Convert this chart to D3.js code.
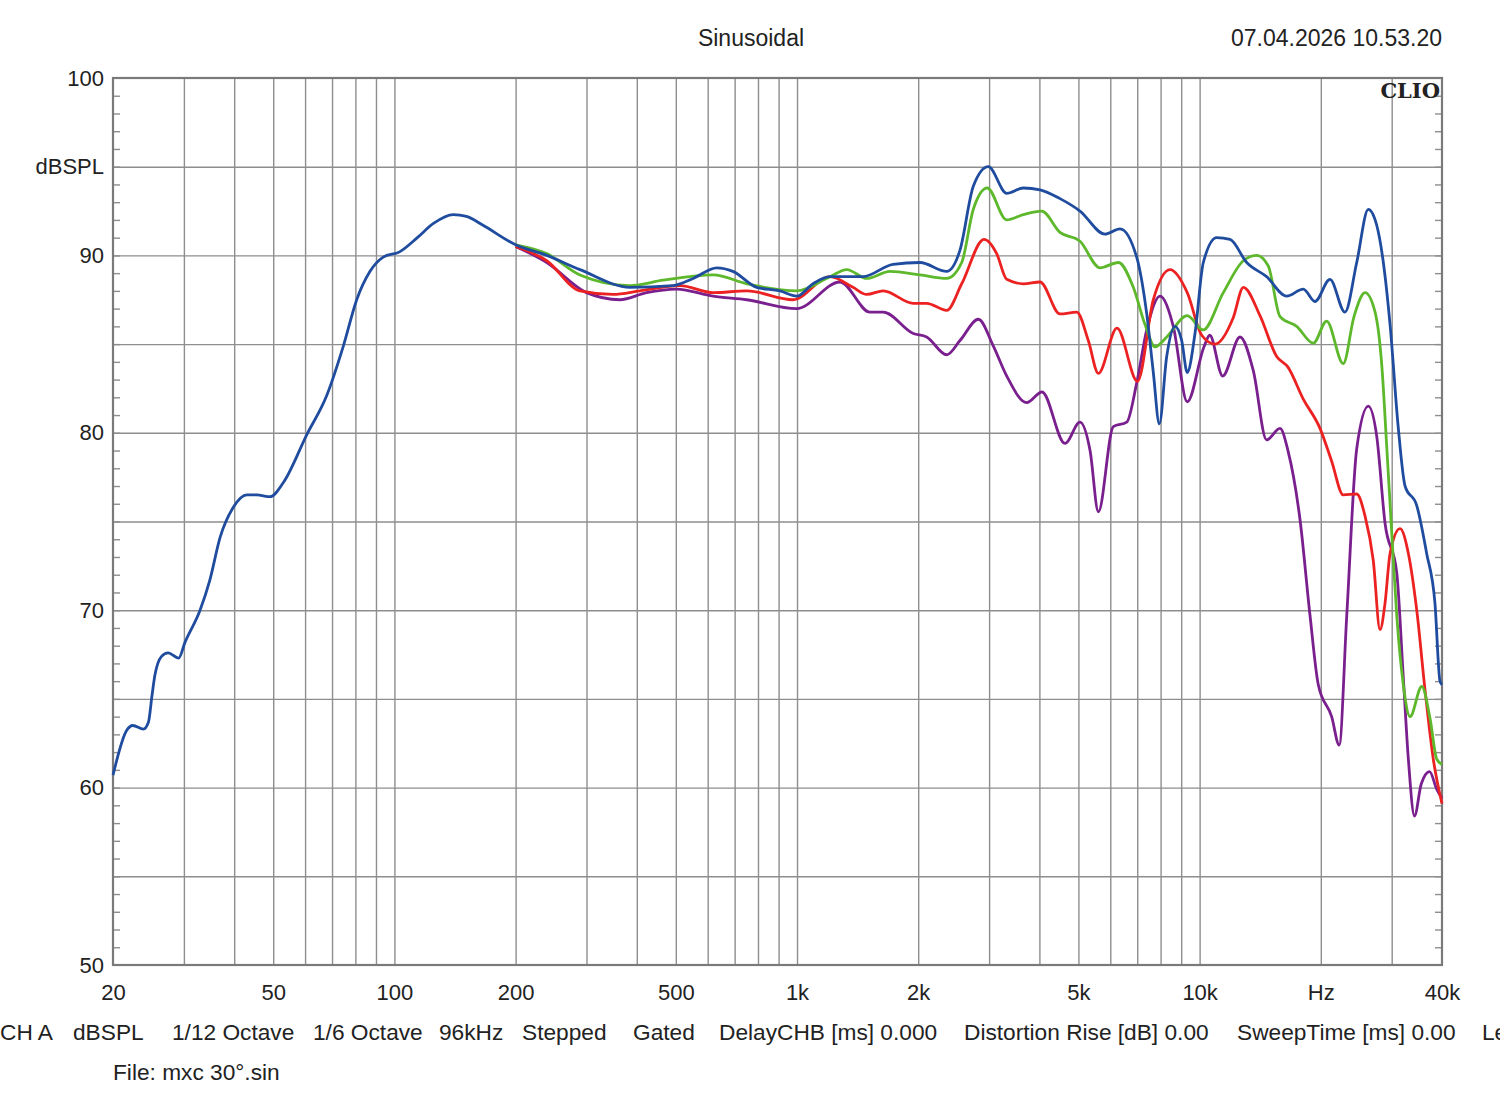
<!DOCTYPE html>
<meta charset="utf-8">
<style>
    body { margin: 0; background: #fff; }
    text { font-family: "Liberation Sans", Arial, sans-serif; fill: #222; }
    .grid line { stroke: #8e8e8e; stroke-width: 1.4; }
    .grid path, .labels path, .minor path { display: none; }
    .labels line { display: none; }
    .minor line { stroke: #8e8e8e; stroke-width: 1.4; }
    .curve { fill: none; stroke-width: 2.8; stroke-linejoin: round; }
</style>
<svg width="1500" height="1110"></svg>
<script src="https://d3js.org/d3.v7.min.js"></script>
<script>

    // grid and tick values
    var gridHz = [30, 40, 50, 60, 70, 80, 90, 100, 200, 300, 400, 500, 600, 700, 800, 900,
        1000, 2000, 3000, 4000, 5000, 6000, 7000, 8000, 9000, 10000, 20000, 30000];
    var xTickHz = [20, 50, 100, 200, 500, 1000, 2000, 5000, 10000, 20000, 40000];
    var xTickText = ["20", "50", "100", "200", "500", "1k", "2k", "5k", "10k", "Hz", "40k"];
    var yGridDb = [55, 60, 65, 70, 75, 80, 85, 90, 95];
    var yTickDb = [50, 60, 70, 80, 90, 95, 100];
    var yTickText = ["50", "60", "70", "80", "90", "dBSPL", "100"];

    // measured curves
    var blueHz = [20, 21.6, 22.4, 23.8, 24.5, 25.0, 25.4, 26.4, 27.4, 29.1, 30.2, 32.9, 34.8, 36.9, 39.8, 43.0, 45.5, 49.1, 53.0, 60.6,
        67.9, 74.7, 80.6, 87.0, 93.8, 103, 114, 125, 140, 151, 166, 200, 239, 289, 385, 492, 552, 632, 693, 794,
        907, 998, 1096, 1208, 1459, 1731, 2021, 2354, 2540, 2741, 2987, 3318, 3648, 4014, 4500, 5045, 5821, 6342, 6977, 7390,
        7674, 7942, 8284, 8686, 9026, 9318, 9740, 10214, 11026, 11898, 13092, 14672, 16462, 18090, 19346, 21080, 22960, 24560, 26240, 27540,
        28600, 29720, 31160, 32380, 34620, 36640, 38420, 39540, 40000];
    var blueDb = [60.7, 63.2, 63.5, 63.3, 63.7, 65.2, 66.3, 67.4, 67.6, 67.3, 68.2, 70.0, 71.7, 74.1, 75.8, 76.5, 76.5, 76.4, 77.2, 79.9,
        82.1, 84.9, 87.5, 89.1, 89.9, 90.2, 91.0, 91.8, 92.3, 92.2, 91.7, 90.6, 90.0, 89.2, 88.2, 88.3, 88.7, 89.3, 89.1, 88.2,
        88.0, 87.7, 88.4, 88.8, 88.8, 89.5, 89.6, 89.1, 90.3, 93.9, 95.0, 93.5, 93.8, 93.7, 93.2, 92.5, 91.2, 91.5, 89.9, 86.7,
        83.4, 80.5, 84.3, 86.0, 85.2, 83.4, 85.6, 89.6, 91.0, 90.9, 89.6, 88.8, 87.7, 88.1, 87.4, 88.65, 86.8, 89.6, 92.6, 91.7,
        89.6, 86.1, 80.25, 77.0, 75.9, 73.2, 70.4, 66.0, 65.8];

    var greenHz = [200, 239, 289, 385, 465, 619, 751, 998, 1208, 1329, 1490, 1702, 2021, 2354, 2565, 2741, 2968, 3318, 3648, 4052,
        4500, 5045, 5658, 6282, 6844, 7318, 7748, 8284, 9318, 10200, 11450, 12842, 13860, 14812, 15840, 17424, 19162, 20680, 22740, 24180,
        25760, 27280, 28360, 29180, 30000, 30880, 32060, 33320, 35620, 37360, 38820, 40000];
    var greenDb = [90.6, 90.1, 88.9, 88.3, 88.6, 88.9, 88.4, 88.0, 88.8, 89.2, 88.7, 89.1, 88.9, 88.7, 89.6, 92.6, 93.8, 92.0, 92.3, 92.5,
        91.3, 90.8, 89.3, 89.6, 88.2, 86.1, 84.85, 85.4, 86.6, 85.8, 87.9, 89.7, 90.0, 89.4, 86.55, 86.0, 85.05, 86.3, 83.9, 86.55,
        87.9, 86.8, 83.75, 79.1, 74.4, 69.7, 65.8, 64.0, 65.7, 63.9, 61.6, 61.3];

    var redHz = [200, 239, 289, 349, 407, 512, 619, 751, 977, 1208, 1377, 1490, 1638, 1944, 2099, 2354, 2565, 2914, 3133, 3318,
        3648, 4014, 4500, 4953, 5291, 5604, 6234, 7010, 7674, 8442, 9318, 10122, 10922, 12126, 12842, 14126, 15540, 16574, 18090, 19908,
        21280, 22740, 24560, 25760, 27000, 28060, 28880, 29720, 31460, 33000, 34620, 36300, 38060, 40000];
    var redDb = [90.5, 89.7, 88.0, 87.8, 88.0, 88.3, 87.9, 88.0, 87.5, 88.8, 88.2, 87.8, 88.0, 87.3, 87.3, 86.9, 88.4, 90.9, 90.1, 88.65,
        88.4, 88.5, 86.7, 86.8, 85.2, 83.35, 85.9, 82.9, 87.5, 89.2, 87.9, 85.5, 85.0, 86.5, 88.2, 86.6, 84.3, 83.7, 81.9, 80.25,
        78.4, 76.5, 76.55, 75.3, 72.8, 68.9, 70.4, 73.2, 74.6, 73.2, 70.0, 65.5, 61.6, 59.1];

    var purpleHz = [200, 239, 300, 363, 423, 502, 619, 750, 998, 1279, 1518, 1638, 1944, 2099, 2354, 2540, 2822, 3072, 3318, 3720,
        4060, 4630, 5045, 5344, 5604, 6104, 6592, 6977, 7390, 7974, 8602, 9318, 10256, 10598, 11410, 12600, 13594, 14672, 15840, 16574,
        17760, 18804, 19716, 21280, 22220, 23200, 24560, 26240, 27540, 28880, 30880, 32060, 33000, 34180, 35520, 37260, 38820, 40000];
    var purpleDb = [90.5, 89.6, 87.9, 87.5, 87.9, 88.1, 87.7, 87.5, 87.0, 88.5, 86.8, 86.8, 85.6, 85.4, 84.4, 85.2, 86.4, 84.9, 83.2, 81.7,
        82.3, 79.4, 80.6, 79.0, 75.55, 80.35, 80.6, 82.8, 85.8, 87.7, 86.0, 81.75, 84.85, 85.5, 83.2, 85.4, 83.5, 79.6, 80.25, 79.0,
        75.1, 69.7, 65.8, 64.0, 62.4, 69.7, 79.1, 81.5, 79.8, 74.9, 72.1, 66.2, 61.6, 58.4, 60.2, 60.9, 59.9, 59.4];

    var series = [
        {hz: purpleHz, db: purpleDb, color: "#7a1f8e"},
        {hz: redHz, db: redDb, color: "#ec2222"},
        {hz: greenHz, db: greenDb, color: "#5db82c"},
        {hz: blueHz, db: blueDb, color: "#1f4c9e"}
    ];

    var svg = d3.select("svg"),
        margin = {top: 78, right: 58, bottom: 145, left: 113},
        width = +svg.attr("width") - margin.left - margin.right,
        height = +svg.attr("height") - margin.top - margin.bottom;

    var x = d3.scaleLog().domain([20, 40000]).range([0, width]),
        y = d3.scaleLinear().domain([50, 100]).range([height, 0]);

    var g = svg.append("g")
        .attr("transform", "translate(" + margin.left + "," + margin.top + ")");

    // grid
    g.append("g")
        .attr("class", "grid")
        .attr("transform", "translate(0," + height + ")")
        .call(d3.axisBottom(x).tickValues(gridHz).tickSize(-height).tickFormat(""));

    g.append("g")
        .attr("class", "grid")
        .call(d3.axisLeft(y).tickValues(yGridDb).tickSize(-width).tickFormat(""));

    // 1 dB minor ticks on both sides
    g.append("g")
        .attr("class", "minor")
        .call(d3.axisLeft(y).tickValues(d3.range(51, 100)).tickSize(-7).tickFormat(""));

    g.append("g")
        .attr("class", "minor")
        .attr("transform", "translate(" + width + ",0)")
        .call(d3.axisRight(y).tickValues(d3.range(51, 100)).tickSize(-7).tickFormat(""));

    // frame
    g.append("rect")
        .attr("width", width)
        .attr("height", height)
        .attr("fill", "none")
        .attr("stroke", "#7a7a7a")
        .attr("stroke-width", 2.2);

    // tick labels
    var xl = g.append("g")
        .attr("class", "labels")
        .attr("transform", "translate(0," + height + ")")
        .call(d3.axisBottom(x).tickValues(xTickHz).tickSize(0).tickPadding(19)
            .tickFormat(function(d, i) { return xTickText[i]; }));
    xl.selectAll("text").style("font-size", "22px").attr("fill", "#222");

    var yl = g.append("g")
        .attr("class", "labels")
        .call(d3.axisLeft(y).tickValues(yTickDb).tickSize(0).tickPadding(9)
            .tickFormat(function(d, i) { return yTickText[i]; }));
    yl.selectAll("text").style("font-size", "22px").attr("fill", "#222");

    // curves
    var line = d3.line()
        .x(function(d) { return x(d[0]); })
        .y(function(d) { return y(d[1]); })
        .curve(d3.curveMonotoneX);

    g.selectAll(".curve")
        .data(series)
        .enter().append("path")
        .attr("class", "curve")
        .attr("stroke", function(d) { return d.color; })
        .attr("d", function(d) { return line(d3.zip(d.hz, d.db)); });

    g.append("text")
        .attr("x", width - 2)
        .attr("y", 20)
        .attr("text-anchor", "end")
        .style("font-family", "'DejaVu Serif', 'Liberation Serif', serif")
        .style("font-weight", "bold")
        .style("font-size", "21px")
        .text("CLIO");

    // header
    svg.append("text")
        .attr("x", 751).attr("y", 46)
        .attr("text-anchor", "middle")
        .style("font-size", "23px")
        .text("Sinusoidal");

    svg.append("text")
        .attr("x", 1442).attr("y", 46)
        .attr("text-anchor", "end")
        .style("font-size", "23px")
        .text("07.04.2026 10.53.20");

    // footer info (the last item runs off the right edge, as in the original)
    var infoText = ["CH A", "dBSPL", "1/12 Octave", "1/6 Octave", "96kHz", "Stepped", "Gated",
        "DelayCHB [ms] 0.000", "Distortion Rise [dB] 0.00", "SweepTime [ms] 0.00", "Le"];
    var infoX = [0, 73, 172, 313, 439, 522, 633, 719, 964, 1237, 1482];

    svg.selectAll(".info")
        .data(infoText)
        .enter().append("text")
        .attr("class", "info")
        .attr("x", function(d, i) { return infoX[i]; })
        .attr("y", 1040)
        .style("font-size", "22.7px")
        .text(function(d) { return d; });

    svg.append("text")
        .attr("x", 113).attr("y", 1080)
        .style("font-size", "22.7px")
        .text("File: mxc 30\u00b0.sin");
</script>
